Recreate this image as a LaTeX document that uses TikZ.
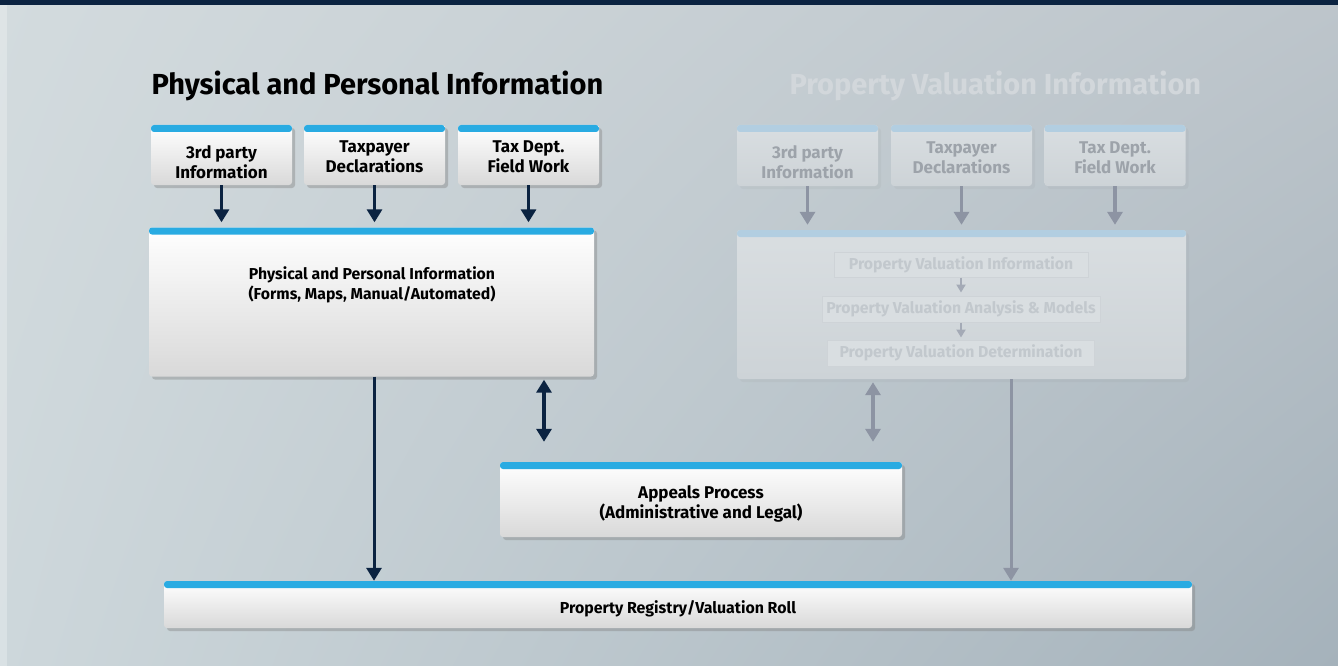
\documentclass[tikz,border=0pt]{standalone}
\usepackage{fontspec}
\setmainfont{Fira Sans}
\usetikzlibrary{arrows.meta,positioning,shadows,shadings}

\definecolor{navy}{HTML}{0B2341}
\definecolor{stripblue}{HTML}{29ABE2}
\definecolor{bgul}{HTML}{D3DBDE}
\definecolor{bgur}{HTML}{BDC5CB}
\definecolor{bgll}{HTML}{CDD7DB}
\definecolor{bglr}{HTML}{A5B2BB}
\definecolor{fadetop}{HTML}{D9DEE1}
\definecolor{fadebot}{HTML}{CDD3D7}
\definecolor{fadestrip}{HTML}{B2CEE1}
\definecolor{fadetext}{HTML}{9DA3AA}
\definecolor{fadetitle}{HTML}{D2D7DB}
\definecolor{fadeinner}{HTML}{C2C8CD}
\definecolor{fadeline}{HTML}{CED3D7}
\definecolor{fadearrow}{HTML}{8D94A3}

\begin{document}
\begin{tikzpicture}[x=1pt, y=-1pt,
  box/.style={rounded corners=3pt, top color=white, bottom color=black!15,
    drop shadow={shadow xshift=3pt, shadow yshift=-3pt, opacity=0.4},
    path picture={\fill[stripblue] (path picture bounding box.north west)
      rectangle ([yshift=-7pt]path picture bounding box.north east);}},
  fbox/.style={rounded corners=3pt, top color=fadetop, bottom color=fadebot,
    drop shadow={shadow xshift=3pt, shadow yshift=-3pt, opacity=0.08},
    path picture={\fill[fadestrip] (path picture bounding box.north west)
      rectangle ([yshift=-7pt]path picture bounding box.north east);}},
  inbox/.style={draw=fadeline, line width=1pt, fill=fadetop, text=fadeinner,
    font=\fontsize{15.8}{18}\selectfont\bfseries, inner sep=0pt},
  txt/.style={align=center, font=\fontsize{17}{20}\selectfont\bfseries},
  darrow/.style={navy, line width=3.5pt, -{Triangle[width=15pt,length=13pt]}},
  farrow/.style={fadearrow, line width=3.5pt, -{Triangle[width=15pt,length=13pt]}},
  sarrow/.style={fadearrow!70!fadetop, line width=2pt, -{Triangle[width=9pt,length=8pt]}}]

  \useasboundingbox (0,0) rectangle (1338,666);
  \shade[upper left=bgul, upper right=bgur, lower left=bgll, lower right=bglr]
    (0,0) rectangle (1338,666);
  \fill[white, opacity=0.25] (0,0) rectangle (7,666);
  \fill[navy] (0,0) rectangle (1338,5);

  % titles
  \node[anchor=base west, font=\fontsize{29}{34}\selectfont\bfseries] (ltitle)
    at (148,95) {Physical and Personal Information};
  \node[anchor=base west, font=\fontsize{29}{34}\selectfont\bfseries, text=fadetitle]
    (rtitle) at (786,95) {Property Valuation Information};

  % left column: sources
  \node[box, minimum width=141pt, minimum height=60pt] (thirdl) at (221.5,155) {};
  \node[box, minimum width=141pt, minimum height=60pt] (taxpl) at (374.5,155) {};
  \node[box, minimum width=141pt, minimum height=60pt] (fieldl) at (528.5,155) {};
  \node[txt] at ([yshift=-7pt]thirdl.center) {3rd party\\Information};
  \node[txt] at ([yshift=-2pt]taxpl.center) {Taxpayer\\Declarations};
  \node[txt] at ([yshift=-2pt]fieldl.center) {Tax Dept.\\Field Work};

  % left column: main box
  \node[box, minimum width=445pt, minimum height=149pt] (physl) at (371.5,302) {};
  \node[txt, font=\fontsize{15.8}{20}\selectfont\bfseries] (physt) at (372,285)
    {Physical and Personal Information\\(Forms, Maps, Manual/Automated)};

  \foreach \s in {thirdl,taxpl,fieldl}
    \draw[darrow, shorten >=5pt] (\s.south) -- (\s.south |- physl.north);

  % right column (faded)
  \node[fbox, minimum width=141pt, minimum height=61pt] (thirdr) at (807.5,155.5) {};
  \node[fbox, minimum width=141pt, minimum height=61pt] (taxpr) at (961.5,155.5) {};
  \node[fbox, minimum width=141pt, minimum height=61pt] (fieldr) at (1115,155.5) {};
  \node[txt, text=fadetext] at ([yshift=-7pt]thirdr.center) {3rd party\\Information};
  \node[txt, text=fadetext] at ([yshift=-2pt]taxpr.center) {Taxpayer\\Declarations};
  \node[txt, text=fadetext] at ([yshift=-2pt]fieldr.center) {Tax Dept.\\Field Work};

  \node[fbox, minimum width=449pt, minimum height=149pt] (valr) at (961.5,304.5) {};
  \node[inbox, minimum width=254pt, minimum height=25pt] (pvi) at (961,264.5)
    {Property Valuation Information};
  \node[inbox, minimum width=278pt, minimum height=26pt] (pva) at (961,309)
    {Property Valuation Analysis \& Models};
  \node[inbox, minimum width=267pt, minimum height=26pt] (pvd) at (961,353)
    {Property Valuation Determination};
  \draw[sarrow, shorten >=3pt] (pvi) -- (pva);
  \draw[sarrow, shorten >=2pt] (pva) -- (pvd);

  \foreach \s in {thirdr,taxpr,fieldr}
    \draw[farrow, shorten >=5pt] (\s.south) -- (\s.south |- valr.north);

  % appeals
  \node[box, minimum width=402pt, minimum height=75pt] (appeal) at (701,499.5) {};
  \node[txt] at ([yshift=-4pt]appeal.center)
    {Appeals Process\\(Administrative and Legal)};
  \coordinate (lap) at (544,0);
  \coordinate (rap) at (873,0);
  \draw[darrow, {Triangle[width=15pt,length=13pt]}-{Triangle[width=15pt,length=13pt]},
    shorten <=3pt, shorten >=20pt] (lap |- physl.south) -- (lap |- appeal.north);
  \draw[farrow, {Triangle[width=15pt,length=13pt]}-{Triangle[width=15pt,length=13pt]},
    shorten <=3pt, shorten >=20pt] (rap |- valr.south) -- (rap |- appeal.north);

  % registry
  \node[box, minimum width=1028pt, minimum height=47pt] (roll) at (678,604.5) {};
  \node[txt, font=\fontsize{15.9}{18}\selectfont\bfseries] at ([yshift=-4.5pt]roll.center)
    {Property Registry/Valuation Roll};
  \coordinate (lrl) at (374,0);
  \coordinate (rrl) at (1011,0);
  \draw[darrow, line width=3pt] (lrl |- physl.south) -- (lrl |- roll.north);
  \draw[farrow, line width=3pt] (rrl |- valr.south) -- (rrl |- roll.north);
\end{tikzpicture}
\end{document}
